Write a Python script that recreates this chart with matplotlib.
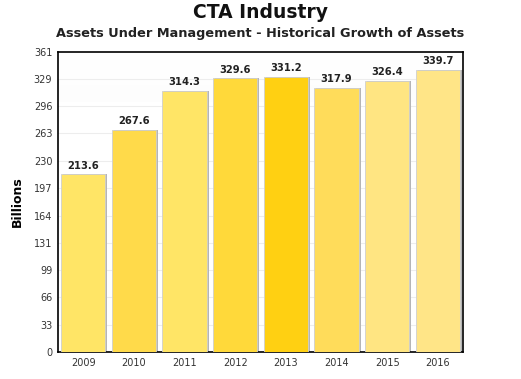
import numpy as np
import matplotlib
matplotlib.use("Agg")
from matplotlib import pyplot as plt
import matplotlib.transforms as mtransforms

# data
years = ["2009", "2010", "2011", "2012", "2013", "2014", "2015", "2016"]
assets = [213.6, 267.6, 314.3, 329.6, 331.2, 317.9, 326.4, 339.7]
bar_colors = ["#FFE566", "#FFDA4A", "#FFE566", "#FFD93A", "#FFD012",
              "#FFDC5A", "#FFE582", "#FFE587"]
y_ticks = [0, 33, 66, 99, 131, 164, 197, 230, 263, 296, 329, 361]

fig = plt.figure(figsize=(5.21, 3.79), dpi=100)
ax = fig.add_axes([0.111, 0.0712, 0.778, 0.7916])

x = np.arange(len(years))
width = 0.87

# soft background gradient at top of the plot area
grad = np.linspace(0.965, 1.0, 256).reshape(-1, 1)
ax.imshow(np.dstack([grad, grad, grad]), extent=(-0.5, len(years) - 0.5, 361, 0),
          aspect="auto", zorder=0)
ax.imshow(np.ones((2, 2, 3)), extent=(-0.5, len(years) - 0.5, 0, 300),
          aspect="auto", zorder=0)

for t in y_ticks[1:-1]:
    ax.axhline(t, color="#ededed", linewidth=0.8, zorder=1)

# drop shadow, shifted a couple of pixels to the right
shadow = mtransforms.offset_copy(ax.transData, fig=fig, x=2, y=0, units="dots")
ax.bar(x, assets, width=width, color="#b5b5b5", transform=shadow, zorder=2)
ax.bar(x, assets, width=width, color=bar_colors, edgecolor="#cfcfcf",
       linewidth=0.6, zorder=3)

for xi, v in zip(x, assets):
    ax.text(xi, v + 4, f"{v:.1f}", ha="center", va="bottom", fontsize=7.2,
            fontweight="bold", color="#222222", zorder=4)

ax.set_xlim(-0.5, len(years) - 0.5)
ax.set_ylim(0, 361)
ax.set_xticks(x)
ax.set_xticklabels(years)
ax.set_yticks(y_ticks)
ax.tick_params(axis="both", length=0, labelsize=7, colors="#333333", pad=4)
for s in ax.spines.values():
    s.set_color("black")
    s.set_linewidth(1.2)

ax.set_ylabel("Billions", fontsize=9, fontweight="bold", labelpad=7)

fig.text(0.5, 0.968, "CTA Industry", ha="center", va="center",
         fontsize=13.5, fontweight="bold", color="#111111")
fig.text(0.5, 0.912, "Assets Under Management - Historical Growth of Assets",
         ha="center", va="center", fontsize=9.3, fontweight="bold", color="#222222")

fig.savefig("out.png", dpi=100)
